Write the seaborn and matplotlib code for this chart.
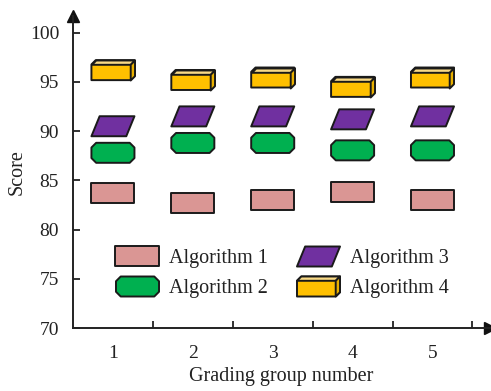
import numpy as np
import pandas as pd
import seaborn as sns
import matplotlib
matplotlib.use("Agg")
import matplotlib.pyplot as plt
from matplotlib.path import Path
from matplotlib.lines import Line2D
from matplotlib.legend_handler import HandlerTuple

# ---- data ----
groups = [1, 2, 3, 4, 5]
algorithms = ["Algorithm 1", "Algorithm 2", "Algorithm 3", "Algorithm 4"]
alg1 = [83.7, 82.75, 83.0, 83.8, 83.0]
alg2 = [87.8, 88.8, 88.8, 88.05, 88.05]
alg3 = [90.5, 91.5, 91.5, 91.2, 91.5]
alg4 = [96.2, 95.2, 95.45, 94.5, 95.45]
yticks = [70, 75, 80, 85, 90, 95, 100]

df = pd.DataFrame({
    "group": groups * 4,
    "algorithm": [a for a in algorithms for _ in groups],
    "score": alg1 + alg2 + alg3 + alg4,
})

# ---- styling ----
sns.set_theme(style="white")
plt.rcParams["font.family"] = ["Liberation Serif", "DejaVu Serif"]
TXT = "#222222"
colors = {"Algorithm 1": "#DA9694", "Algorithm 2": "#00B050",
          "Algorithm 3": "#7030A0", "Algorithm 4": "#FFC000"}

h = 0.465   # half height relative to half width
d = 0.2     # 3D depth
c = 0.22    # chamfer
rect = Path([(-1, -h), (1, -h), (1, h), (-1, h), (-1, -h)],
            [Path.MOVETO, Path.LINETO, Path.LINETO, Path.LINETO, Path.CLOSEPOLY])
octo_v = [(-1 + c, -h), (1 - c, -h), (1, -h + c), (1, h - c), (1 - c, h),
          (-1 + c, h), (-1, h - c), (-1, -h + c), (-1 + c, -h)]
octo = Path(octo_v, [Path.MOVETO] + [Path.LINETO] * 7 + [Path.CLOSEPOLY])
s_ = 0.19
para = Path([(-1, -h), (1 - 2 * s_, -h), (1, h), (-1 + 2 * s_, h), (-1, -h)],
            [Path.MOVETO, Path.LINETO, Path.LINETO, Path.LINETO, Path.CLOSEPOLY])
fw = 1 - d  # front face right x
box = Path([(-1, -h), (fw, -h), (1, -h + d), (1, h), (-1 + d, h), (-1, h - d), (-1, -h)],
           [Path.MOVETO] + [Path.LINETO] * 5 + [Path.CLOSEPOLY])
box_top = Path([(-1, h - d), (fw, h - d), (1, h), (-1 + d, h), (-1, h - d)],
               [Path.MOVETO, Path.LINETO, Path.LINETO, Path.LINETO, Path.CLOSEPOLY])
box_side = Path([(fw, -h), (1, -h + d), (1, h), (fw, h - d), (fw, -h)],
                [Path.MOVETO, Path.LINETO, Path.LINETO, Path.LINETO, Path.CLOSEPOLY])
markers = {"Algorithm 1": rect, "Algorithm 2": octo,
           "Algorithm 3": para, "Algorithm 4": box}

fig = plt.figure(figsize=(4.91, 3.91), dpi=100)
ax = fig.add_axes([73 / 491, 1 - 328 / 391, 417 / 491, (328 - 16) / 391])

S = 960
LW = 1.4
sns.scatterplot(data=df, x="group", y="score", hue="algorithm", style="algorithm",
                palette=colors, markers=markers, s=S, edgecolor="#1a1a1a",
                linewidth=LW, legend=False, ax=ax, zorder=3)
d4 = df[df["algorithm"] == "Algorithm 4"]
sns.scatterplot(data=d4, x="group", y="score", marker=box_top, color="#F9DA86",
                s=S, edgecolor="#1a1a1a", linewidth=LW, legend=False, ax=ax, zorder=4)
sns.scatterplot(data=d4, x="group", y="score", marker=box_side, color="#E8B000",
                s=S, edgecolor="#1a1a1a", linewidth=LW, legend=False, ax=ax, zorder=4)

ax.set_xlim(0.5, 5.72)
ax.set_ylim(70, 101.7)
ax.set_yticks(yticks)
ax.set_xticks(groups)
ax.set_xticks([g + 0.5 for g in groups], minor=True)
ax.tick_params(axis="x", which="major", length=0, pad=12, labelsize=14, labelcolor=TXT)
ax.tick_params(axis="x", which="minor", direction="in", length=5, width=1.3, color="#222", bottom=True)
ax.tick_params(axis="y", which="major", direction="in", length=5, width=1.3, color="#222",
               pad=10, labelsize=14, labelcolor=TXT, left=True)
sns.despine(ax=ax)
for sp in ("left", "bottom"):
    ax.spines[sp].set_linewidth(1.4)
    ax.spines[sp].set_color("#222")
ax.set_xlabel("Grading group number", fontsize=14.5, color=TXT, labelpad=4)
ax.set_ylabel("Score", fontsize=14.5, color=TXT, labelpad=2)

# axis arrows
ax.plot(1, 0, marker=">", color="#111", markersize=8, transform=ax.transAxes, clip_on=False)
ax.plot(0, 1, marker="^", color="#111", markersize=8, transform=ax.transAxes, clip_on=False)

# legend
MS = np.sqrt(S)
def mk(marker, color):
    return Line2D([], [], linestyle="none", marker=marker, markersize=MS,
                  markerfacecolor=color, markeredgecolor="#1a1a1a", markeredgewidth=LW)
handles = [mk(rect, colors["Algorithm 1"]),
           mk(octo, colors["Algorithm 2"]),
           mk(para, colors["Algorithm 3"]),
           (mk(box, colors["Algorithm 4"]), mk(box_top, "#F9DA86"), mk(box_side, "#E8B000"))]
fig.legend(handles, algorithms, loc="center", bbox_to_anchor=(282 / 491, 1 - 273.5 / 391),
           ncol=2, frameon=False, fontsize=14.5, handlelength=2.2, handletextpad=0.5,
           columnspacing=1.4, labelspacing=0.55, borderpad=0,
           handler_map={tuple: HandlerTuple(ndivide=1)}, labelcolor=TXT)

fig.savefig("out.png", dpi=100)
